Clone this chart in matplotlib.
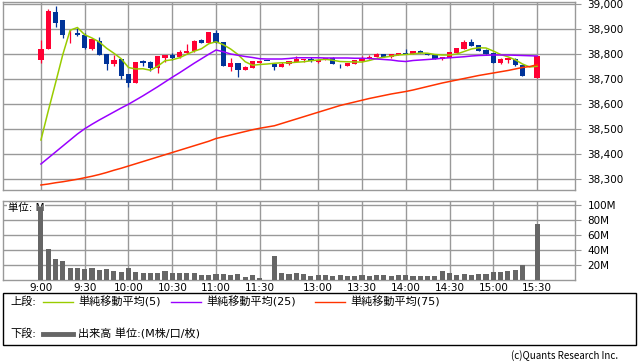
import matplotlib
matplotlib.use("Agg")
import matplotlib.pyplot as plt
from matplotlib.lines import Line2D
from matplotlib.patches import Rectangle
import pandas as pd

plt.rcParams['font.family'] = ['DejaVu Sans', 'Noto Sans CJK JP']

# 5-minute slots: morning 9:00-11:30, a lunch placeholder, afternoon 12:30-15:30
morning = pd.date_range("09:00", "11:30", freq="5min").strftime("%-H:%M").tolist()
afternoon = pd.date_range("12:30", "15:30", freq="5min").strftime("%-H:%M").tolist()
times = morning + ["12:25"] + afternoon

tick_labels = ["9:00", "9:30", "10:00", "10:30", "11:00", "11:30",
               "13:00", "13:30", "14:00", "14:30", "15:00", "15:30"]

opens = [38776, 38821, 38967, 38936, 38879, 38885, 38876, 38819, 38852, 38799,
         38760, 38780, 38720, 38685, 38772, 38768, 38745, 38786, 38796, 38787,
         38803, 38812, 38856, 38845, 38885, 38848, 38749, 38765, 38737, 38745,
         38766, 38772, 38761, 38749, 38760, 38770, 38777, 38781, 38769, 38779,
         38785, 38760, 38753, 38759, 38772, 38781, 38787, 38800, 38787, 38797,
         38804, 38800, 38811, 38804, 38797, 38780, 38783, 38804, 38821, 38848,
         38836, 38817, 38804, 38765, 38777, 38780, 38756, 38707, 38705]
highs = [38856, 38979, 38993, 38936, 38896, 38903, 38885, 38863, 38869, 38799,
         38796, 38780, 38720, 38768, 38776, 38772, 38792, 38796, 38803, 38816,
         38840, 38856, 38861, 38888, 38896, 38848, 38785, 38765, 38752, 38772,
         38772, 38772, 38761, 38767, 38772, 38792, 38781, 38788, 38777, 38785,
         38787, 38760, 38763, 38776, 38792, 38797, 38803, 38800, 38800, 38804,
         38819, 38811, 38816, 38804, 38797, 38789, 38808, 38824, 38856, 38860,
         38836, 38821, 38804, 38785, 38785, 38783, 38756, 38707, 38792]
lows = [38765, 38821, 38909, 38863, 38846, 38872, 38819, 38816, 38796, 38736,
        38752, 38699, 38667, 38685, 38752, 38732, 38725, 38769, 38776, 38783,
        38799, 38809, 38845, 38845, 38843, 38752, 38732, 38709, 38737, 38745,
        38766, 38772, 38736, 38749, 38757, 38767, 38769, 38767, 38765, 38776,
        38759, 38743, 38753, 38759, 38769, 38781, 38787, 38787, 38784, 38797,
        38799, 38800, 38804, 38797, 38780, 38776, 38783, 38804, 38819, 38833,
        38813, 38801, 38765, 38761, 38765, 38753, 38713, 38707, 38705]
closes = [38819, 38972, 38925, 38877, 38882, 38876, 38825, 38859, 38796, 38760,
          38776, 38712, 38685, 38768, 38766, 38743, 38792, 38796, 38786, 38809,
          38812, 38852, 38846, 38888, 38846, 38753, 38765, 38736, 38747, 38772,
          38772, 38772, 38750, 38761, 38772, 38779, 38781, 38772, 38777, 38785,
          38759, 38759, 38763, 38776, 38783, 38787, 38800, 38787, 38800, 38804,
          38800, 38811, 38804, 38797, 38780, 38789, 38808, 38824, 38848, 38833,
          38813, 38801, 38765, 38780, 38785, 38756, 38713, 38707, 38792]

ma5 = [38456, 38572, 38684, 38798, 38895, 38906, 38877, 38864, 38848, 38823,
       38803, 38781, 38746, 38740, 38741, 38735, 38751, 38773, 38777, 38785,
       38799, 38811, 38821, 38841, 38849, 38837, 38820, 38798, 38769, 38755,
       38758, 38760, 38763, 38765, 38765, 38767, 38769, 38773, 38776, 38779,
       38775, 38770, 38769, 38768, 38768, 38774, 38782, 38787, 38791, 38796,
       38798, 38800, 38804, 38803, 38798, 38796, 38796, 38800, 38810, 38820,
       38825, 38824, 38812, 38798, 38789, 38777, 38760, 38748, 38751]
ma25 = [38360, 38384, 38408, 38432, 38456, 38480, 38501, 38519, 38536, 38552,
        38568, 38584, 38599, 38616, 38633, 38651, 38669, 38688, 38707, 38725,
        38744, 38763, 38781, 38799, 38816, 38809, 38800, 38795, 38790, 38786,
        38781, 38780, 38780, 38780, 38782, 38785, 38785, 38785, 38785, 38784,
        38784, 38784, 38784, 38783, 38783, 38782, 38780, 38778, 38776, 38772,
        38770, 38774, 38776, 38778, 38780, 38783, 38785, 38787, 38789, 38792,
        38794, 38795, 38796, 38796, 38796, 38795, 38794, 38793, 38792]
ma75 = [38276, 38280, 38285, 38289, 38294, 38299, 38305, 38311, 38318, 38326,
        38335, 38343, 38352, 38361, 38370, 38379, 38388, 38397, 38406, 38415,
        38424, 38433, 38442, 38451, 38462, 38469, 38476, 38483, 38490, 38497,
        38503, 38508, 38513, 38522, 38531, 38540, 38549, 38558, 38567, 38576,
        38585, 38594, 38601, 38608, 38615, 38622, 38628, 38634, 38640, 38645,
        38650, 38656, 38663, 38670, 38677, 38684, 38690, 38696, 38702, 38708,
        38714, 38719, 38724, 38729, 38734, 38740, 38746, 38750, 38757]

volume = [97, 41, 28, 25, 16, 16, 15, 16, 13, 15,
          12, 11, 16, 11, 9, 9, 9, 12, 9.3, 9.3,
          9.3, 9.3, 6.7, 6.7, 7.6, 7.6, 6.7, 7.6, 4.4, 6.7,
          3.1, 0, 32, 9.3, 7.6, 9.3, 7.6, 5.8, 6.7, 6.7,
          5.3, 6.7, 5.3, 5.8, 6.7, 5.3, 6.7, 6.7, 5.3, 6.7,
          6.7, 5.3, 5.3, 5.3, 5.8, 12, 9.3, 6.7, 7.6, 6.7,
          7.6, 7.6, 10.7, 10.7, 12, 13.3, 20, 0, 74.7]

price_ticks = [38300, 38400, 38500, 38600, 38700, 38800, 38900, 39000]
vol_ticks = [20, 40, 60, 80, 100]

UP = "#ff0033"
DOWN = "#003399"
GRID = "#999999"

W, H = 638, 362
fig = plt.figure(figsize=(W / 100, H / 100), dpi=100)
ax = fig.add_axes([3 / W, 1 - 190 / H, 572 / W, 188 / H])
axv = fig.add_axes([3 / W, 1 - 280 / H, 572 / W, 79 / H])

x = list(range(len(times)))
tick_pos = [times.index(t) for t in tick_labels]

# candles
colors = [UP if c > o else DOWN for o, c in zip(opens, closes)]
bottoms = [min(o, c) for o, c in zip(opens, closes)]
heights = [max(abs(c - o), 3) for o, c in zip(opens, closes)]
ax.vlines(x, lows, highs, colors=colors, lw=0.9, zorder=3)
ax.bar(x, heights, bottom=bottoms, width=0.72, color=colors, lw=0, zorder=4)

ax.plot(x, ma5, color="#99cc00", lw=1.1, zorder=5)
ax.plot(x, ma25, color="#9900ff", lw=1.1, zorder=5)
ax.plot(x, ma75, color="#ff3300", lw=1.1, zorder=5)

xlim = (-5.2, 73.2)
for a in (ax, axv):
    a.set_xlim(*xlim)
    a.set_xticks(tick_pos)
    a.grid(True, color=GRID, lw=1.0)
    a.set_axisbelow(True)
    for s in a.spines.values():
        s.set_color(GRID)
        s.set_linewidth(1.0)
    a.yaxis.tick_right()
    a.tick_params(axis="y", direction="out", length=4, color=GRID, pad=5,
                  labelsize=7.5)

ax.set_ylim(38256, 39008)
ax.set_yticks(price_ticks)
ax.set_yticklabels([f"{v:,}" for v in price_ticks])
ax.tick_params(axis="x", length=0, labelbottom=False)

axv.bar(x, volume, width=0.7, color="#666666", lw=0, zorder=3)
axv.set_ylim(0, 105.3)
axv.set_yticks(vol_ticks)
axv.set_yticklabels([f"{v}M" for v in vol_ticks])
axv.set_xticklabels(tick_labels)
axv.tick_params(axis="x", length=0, pad=2, labelsize=7.5)
axv.text(0.009, 0.975, "単位: M", transform=axv.transAxes, fontsize=7.5,
         va="top", ha="left", zorder=2.5,
         bbox=dict(facecolor="white", edgecolor="none", pad=0.5))

# legend box
fig.patches.append(Rectangle((3 / W, 1 - 345 / H), 633 / W, 52 / H,
                             transform=fig.transFigure, fill=False,
                             edgecolor="black", lw=1.0))
y1 = 1 - 302 / H
y2 = 1 - 334 / H
fig.text(10 / W, y1, "上段:", fontsize=8, va="center")
entries = [(43, "#99cc00", "単純移動平均(5)"),
           (171, "#9900ff", "単純移動平均(25)"),
           (315, "#ff3300", "単純移動平均(75)")]
for x0, col, label in entries:
    fig.add_artist(Line2D([x0 / W, (x0 + 30) / W], [y1, y1], color=col, lw=1.0,
                          transform=fig.transFigure))
    fig.text((x0 + 35) / W, y1, label, fontsize=8, va="center")
fig.text(10 / W, y2, "下段:", fontsize=8, va="center")
fig.add_artist(Line2D([43 / W, 73 / W], [y2, y2], color="#666666", lw=3.5,
                      transform=fig.transFigure))
fig.text(78 / W, y2, "出来高 単位:(M株/口/枚)", fontsize=8, va="center")

fig.text(618 / W, 1 - 356 / H, "(c)Quants Research Inc.", fontsize=7,
         ha="right", va="center", family=["Noto Sans CJK JP"])

fig.savefig("out.png", dpi=100)
